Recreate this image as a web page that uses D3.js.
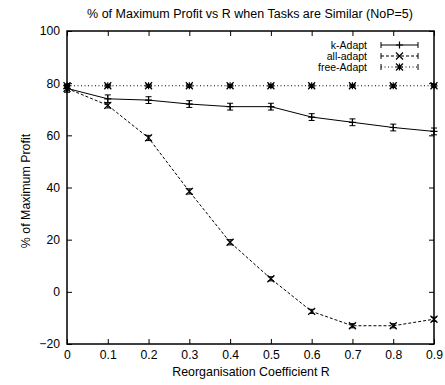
<!DOCTYPE html>
<html>
<head>
<meta charset="utf-8">
<script src="https://cdn.jsdelivr.net/npm/d3@7"></script>
<style>
  body { margin: 0; background: #fff; }
  svg { font-family: "Liberation Sans", Arial, sans-serif; }
</style>
</head>
<body>
<script>
// ----- Data -----
const rValues = [0, 0.1, 0.2, 0.3, 0.4, 0.5, 0.6, 0.7, 0.8, 0.9];
const kAdapt = [78, 74, 73.5, 72, 71, 71, 67, 65, 63, 61.5];
const kAdaptErr = [1.5, 1.5, 1.3, 1.3, 1.3, 1.3, 1.3, 1.3, 1.3, 1.3];
const allAdapt = [78, 71.5, 59, 38.5, 19, 5, -7.5, -13, -13, -10.5];
const allAdaptErr = [1, 1, 1, 1, 1, 0.8, 0.8, 0.8, 0.8, 0.8];
const freeAdapt = [79, 79, 79, 79, 79, 79, 79, 79, 79, 79];
const freeAdaptErr = [0.5, 0.5, 0.5, 0.5, 0.5, 0.5, 0.5, 0.5, 0.5, 0.5];
const yTicks = [-20, 0, 20, 40, 60, 80, 100];
const xTicks = [0, 0.1, 0.2, 0.3, 0.4, 0.5, 0.6, 0.7, 0.8, 0.9];

const series = [
    { name: "k-Adapt", values: kAdapt, err: kAdaptErr, dash: null, marker: "plus" },
    { name: "all-adapt", values: allAdapt, err: allAdaptErr, dash: "3,2", marker: "cross" },
    { name: "free-Adapt", values: freeAdapt, err: freeAdaptErr, dash: "1,2.5", marker: "star" }
];

// ----- Layout -----
const W = 445, H = 385;
const plotLeft = 67, plotRight = 434, plotTop = 31, plotBottom = 344;

const svg = d3.select("body").append("svg")
    .attr("width", W)
    .attr("height", H);

const x = d3.scaleLinear().domain([0, 0.9]).range([plotLeft, plotRight]);
const y = d3.scaleLinear().domain([-20, 100]).range([plotBottom, plotTop]);

// Title
svg.append("text")
    .attr("x", 250).attr("y", 18)
    .attr("text-anchor", "middle")
    .style("font-size", "12.5px")
    .text("% of Maximum Profit vs R when Tasks are Similar (NoP=5)");

// Axes (ticks pointing inward, mirrored)
const tickLen = 5;
const axisStyle = g => {
    g.select(".domain").remove();
    g.selectAll("line").attr("stroke", "#000");
    g.selectAll("text").style("font-size", "12.2px").attr("fill", "#000");
};

svg.append("g")
    .attr("transform", `translate(0,${plotBottom})`)
    .call(d3.axisBottom(x).tickValues(xTicks).tickSize(-tickLen).tickPadding(6)
        .tickFormat(d => d === 0 ? "0" : d3.format(".1f")(d)))
    .call(axisStyle);
svg.append("g")
    .attr("transform", `translate(0,${plotTop})`)
    .call(d3.axisTop(x).tickValues(xTicks).tickSize(-tickLen).tickFormat(""))
    .call(axisStyle);
svg.append("g")
    .attr("transform", `translate(${plotLeft},0)`)
    .call(d3.axisLeft(y).tickValues(yTicks).tickSize(-tickLen).tickPadding(7))
    .call(axisStyle);
svg.append("g")
    .attr("transform", `translate(${plotRight},0)`)
    .call(d3.axisRight(y).tickValues(yTicks).tickSize(-tickLen).tickFormat(""))
    .call(axisStyle);

// Frame
svg.append("rect")
    .attr("x", plotLeft).attr("y", plotTop)
    .attr("width", plotRight - plotLeft).attr("height", plotBottom - plotTop)
    .attr("fill", "none").attr("stroke", "#000").attr("stroke-width", 1.5);

// Axis labels
svg.append("text")
    .attr("x", 251).attr("y", 376)
    .attr("text-anchor", "middle")
    .style("font-size", "12.4px")
    .text("Reorganisation Coefficient R");
svg.append("text")
    .attr("transform", `translate(30, 191) rotate(-90)`)
    .attr("text-anchor", "middle")
    .style("font-size", "12.4px")
    .text("% of Maximum Profit");

// Markers
function drawMarker(g, cx, cy, kind) {
    const s = 3.5;
    const paths = [];
    if (kind === "plus" || kind === "star") {
        paths.push(`M${cx - s},${cy}H${cx + s}M${cx},${cy - s}V${cy + s}`);
    }
    if (kind === "cross" || kind === "star") {
        paths.push(`M${cx - s},${cy - s}L${cx + s},${cy + s}M${cx - s},${cy + s}L${cx + s},${cy - s}`);
    }
    g.append("path").attr("d", paths.join("")).attr("stroke", "#000").attr("stroke-width", 1.2).attr("fill", "none");
}

const line = d3.line().x((d, i) => x(rValues[i])).y(d => y(d));

series.forEach(s => {
    const g = svg.append("g");
    g.append("path")
        .datum(s.values)
        .attr("d", line)
        .attr("fill", "none")
        .attr("stroke", "#000")
        .attr("stroke-width", 1)
        .attr("stroke-dasharray", s.dash);
    s.values.forEach((v, i) => {
        const cx = x(rValues[i]);
        const y0 = y(v - s.err[i]), y1 = y(v + s.err[i]);
        g.append("path")
            .attr("d", `M${cx},${y0}V${y1}M${cx - 3},${y0}H${cx + 3}M${cx - 3},${y1}H${cx + 3}`)
            .attr("stroke", "#000").attr("stroke-width", 1).attr("fill", "none");
        drawMarker(g, cx, y(v), s.marker);
    });
});

// Legend
series.forEach((s, i) => {
    const ly = 45 + i * 11;
    svg.append("text")
        .attr("x", 367).attr("y", ly + 4)
        .attr("text-anchor", "end")
        .style("font-size", "10.5px")
        .text(s.name);
    const g = svg.append("g");
    g.append("path")
        .attr("d", `M381,${ly}H418`)
        .attr("stroke", "#000").attr("stroke-width", 1)
        .attr("stroke-dasharray", s.dash);
    g.append("path")
        .attr("d", `M381,${ly - 3}V${ly + 3}M418,${ly - 3}V${ly + 3}`)
        .attr("stroke", "#000").attr("stroke-width", 1);
    drawMarker(g, 399.5, ly, s.marker);
});
</script>
</body>
</html>
